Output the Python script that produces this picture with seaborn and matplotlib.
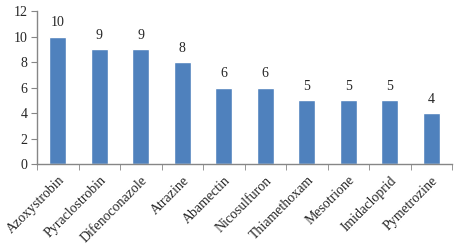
import matplotlib
matplotlib.use("Agg")
import matplotlib.pyplot as plt
import seaborn as sns
import pandas as pd
import numpy as np

categories = ["Azoxystrobin", "Pyraclostrobin", "Difenoconazole", "Atrazine", "Abamectin",
              "Nicosulfuron", "Thiamethoxam", "Mesotrione", "Imidacloprid", "Pymetrozine"]
values = [10, 9, 9, 8, 6, 6, 5, 5, 5, 4]
yticks = [0, 2, 4, 6, 8, 10, 12]

sns.set_style("white")
plt.rcParams['font.family'] = ['Liberation Serif', 'DejaVu Serif']

df = pd.DataFrame({"cat": categories, "val": values})
fig = plt.figure(figsize=(4.67, 2.52), dpi=100)
ax = fig.add_axes([37/467, 88/252, (452-37)/467, (164-11)/252])
sns.barplot(data=df, x="cat", y="val", color="#4F81BD", saturation=1, width=0.4, ax=ax)

ax.set_xlim(-0.5, len(categories) - 0.5)
ax.set_ylim(0, 12)
ax.set_yticks(yticks)
ax.set_yticklabels([str(t) for t in yticks], fontsize=10)
ax.set_xlabel("")
ax.set_ylabel("")

for i, v in enumerate(values):
    ax.text(i, v + 0.55, str(v), ha="center", va="bottom", fontsize=10)

ax.set_xticks(range(len(categories)))
ax.set_xticklabels(categories, rotation=45, ha="right", rotation_mode="anchor", fontsize=10)
ax.tick_params(axis="x", which="major", length=0, pad=7)
ax.set_xticks(np.arange(-0.5, len(categories)), minor=True)
ax.tick_params(axis="x", which="minor", length=4, color="#868686", direction="out", bottom=True)
ax.tick_params(axis="y", length=4, color="#868686", direction="out", left=True, pad=3)

for s in ["top", "right"]:
    ax.spines[s].set_visible(False)
for s in ["left", "bottom"]:
    ax.spines[s].set_color("#868686")
    ax.spines[s].set_linewidth(1)

fig.savefig("out.png", dpi=100)
